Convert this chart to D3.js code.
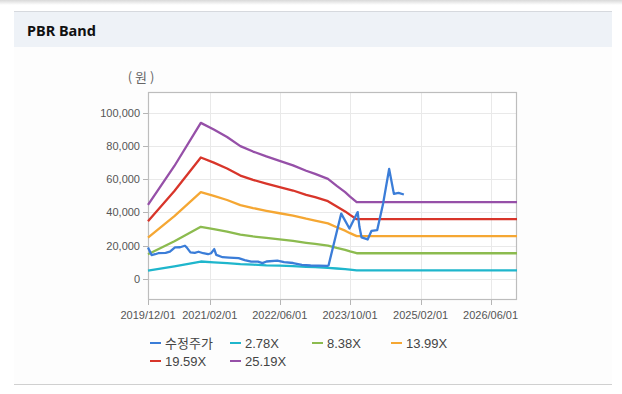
<!DOCTYPE html>
<html>
<head>
<meta charset="utf-8">
<script src="https://cdn.jsdelivr.net/npm/d3@7/dist/d3.min.js"></script>
<style>
  html, body { margin: 0; padding: 0; background: #ffffff; }
  svg { display: block; font-family: "Liberation Sans", Arial, sans-serif; }
  .gridLine { stroke: #e9e9e9; stroke-width: 1; }
  .axisTick { stroke: #b5b5b5; stroke-width: 1; }
  .tickLabel { fill: #555; font-size: 11px; }
  .legendText { fill: #444; font-size: 13px; }
</style>
</head>
<body>
<div id="chartContainer"></div>
<script>
const WIDTH = 622;
const HEIGHT = 394;
const PLOT = { left: 148, right: 517, top: 92, bottom: 300 };

const parseDate = d3.timeParse("%Y-%m-%d");

// 수정주가 (adjusted price)
const priceDates = [
  "2019-12-01", "2019-12-26", "2020-01-20", "2020-02-10", "2020-04-01", "2020-05-01",
  "2020-06-05", "2020-07-10", "2020-08-13", "2020-08-25", "2020-09-20", "2020-10-20",
  "2020-11-15", "2020-12-18", "2021-01-20", "2021-02-10", "2021-03-04", "2021-03-18",
  "2021-05-01", "2021-06-15", "2021-08-20", "2021-10-01", "2021-11-15", "2022-01-01",
  "2022-02-01", "2022-03-01", "2022-05-15", "2022-07-01", "2022-09-01", "2022-11-01",
  "2023-01-01", "2023-04-27", "2023-05-05", "2023-08-01", "2023-09-27", "2023-11-23",
  "2023-12-05", "2023-12-20", "2024-01-31", "2024-02-27", "2024-04-06", "2024-05-17",
  "2024-06-28", "2024-07-31", "2024-09-01", "2024-10-08"
];
const priceValues = [
  18900, 14300, 14800, 15400, 15600, 16300,
  18900, 19000, 19900, 18900, 15900, 15600,
  16300, 15400, 14800, 15400, 17900, 14400,
  13000, 12800, 12400, 11200, 10300, 10300,
  9400, 10400, 10900, 10000, 9500, 8400,
  8000, 7800, 8000, 39300, 30300, 40200,
  31300, 24900, 23700, 28900, 29300, 45300,
  66200, 51200, 51800, 50800
];

// PBR bands
const bandDates = [
  "2019-12-01", "2020-06-01", "2020-12-01", "2021-03-01", "2021-06-01", "2021-09-01",
  "2021-11-28", "2022-02-28", "2022-05-31", "2022-09-01", "2022-12-01", "2023-02-01",
  "2023-05-01", "2023-07-01", "2023-08-28", "2023-10-01", "2023-11-16", "2026-12-01"
];
const band278 = [4900, 7500, 10400, 9900, 9400, 8800, 8500, 8100, 7900, 7600, 7200, 7000, 6600, 6200, 5800, 5500, 5100, 5100];
const band838 = [14800, 22600, 31300, 29900, 28400, 26600, 25500, 24600, 23700, 22800, 21700, 21000, 20000, 18600, 17400, 16500, 15400, 15400];
const band1399 = [24800, 37800, 52200, 50000, 47500, 44400, 42600, 41000, 39500, 38000, 36200, 35100, 33400, 31100, 29000, 27500, 25700, 25700];
const band1959 = [34700, 52900, 73100, 70000, 66500, 62200, 59600, 57400, 55300, 53200, 50600, 49200, 46800, 43600, 40600, 38500, 35900, 35900];
const band2519 = [44600, 68000, 94000, 90000, 85500, 80000, 76700, 73800, 71100, 68400, 65100, 63200, 60200, 56000, 52200, 49500, 46200, 46200];

const seriesNames = ["수정주가", "2.78X", "8.38X", "13.99X", "19.59X", "25.19X"];
const seriesColors = ["#3b7dd8", "#1fb6cc", "#8cbb4f", "#f5a733", "#d8352a", "#9650a8"];

const xTickDates = ["2019-12-01", "2021-02-01", "2022-06-01", "2023-10-01", "2025-02-01", "2026-06-01"];
const yTickValues = [0, 20000, 40000, 60000, 80000, 100000];

const xScale = d3.scaleTime()
  .domain([parseDate("2019-12-01"), parseDate("2026-12-01")])
  .range([PLOT.left, PLOT.right]);
const yScale = d3.scaleLinear()
  .domain([-12800, 112600])
  .range([PLOT.bottom, PLOT.top]);

const svg = d3.select("#chartContainer").append("svg")
  .attr("width", WIDTH)
  .attr("height", HEIGHT);

// page frame and header
const defs = svg.append("defs");
const shadow = defs.append("linearGradient").attr("id", "topShadow")
  .attr("x1", 0).attr("y1", 0).attr("x2", 0).attr("y2", 1);
shadow.append("stop").attr("offset", "0%").attr("stop-color", "#d9d9d9");
shadow.append("stop").attr("offset", "100%").attr("stop-color", "#ffffff");
svg.append("rect").attr("x", 0).attr("y", 0).attr("width", WIDTH).attr("height", 5)
  .attr("fill", "url(#topShadow)");

svg.append("rect").attr("x", 14).attr("y", 47).attr("width", 598).attr("height", 337)
  .attr("fill", "#fdfdfd");
svg.append("rect").attr("x", 14).attr("y", 11).attr("width", 598).attr("height", 36)
  .attr("fill", "#eef2f7");
svg.append("line").attr("x1", 14).attr("x2", 612).attr("y1", 11.5).attr("y2", 11.5)
  .attr("stroke", "#d6d9de");
svg.append("line").attr("x1", 14).attr("x2", 612).attr("y1", 384.5).attr("y2", 384.5)
  .attr("stroke", "#d0d0d0");
svg.append("text")
  .attr("x", 27).attr("y", 36)
  .attr("font-family", "'Noto Sans', 'DejaVu Sans', sans-serif")
  .attr("font-weight", "bold")
  .attr("font-size", "14.5px")
  .attr("fill", "#111")
  .text("PBR Band");

// plot background + grid
svg.append("rect")
  .attr("x", PLOT.left).attr("y", PLOT.top)
  .attr("width", PLOT.right - PLOT.left).attr("height", PLOT.bottom - PLOT.top)
  .attr("fill", "#ffffff");

svg.selectAll("line.hGrid").data(yTickValues).join("line")
  .attr("class", "gridLine hGrid")
  .attr("x1", PLOT.left).attr("x2", PLOT.right)
  .attr("y1", d => Math.round(yScale(d)) + 0.5)
  .attr("y2", d => Math.round(yScale(d)) + 0.5);

svg.selectAll("line.vGrid").data(xTickDates.slice(1)).join("line")
  .attr("class", "gridLine vGrid")
  .attr("y1", PLOT.top).attr("y2", PLOT.bottom)
  .attr("x1", d => Math.round(xScale(parseDate(d))) + 0.5)
  .attr("x2", d => Math.round(xScale(parseDate(d))) + 0.5);

// y axis ticks and labels
svg.selectAll("line.yTick").data(yTickValues).join("line")
  .attr("class", "axisTick yTick")
  .attr("x1", PLOT.left - 5).attr("x2", PLOT.left)
  .attr("y1", d => Math.round(yScale(d)) + 0.5)
  .attr("y2", d => Math.round(yScale(d)) + 0.5);
svg.selectAll("text.yLabel").data(yTickValues).join("text")
  .attr("class", "tickLabel yLabel")
  .attr("x", PLOT.left - 8)
  .attr("y", d => yScale(d) + 4)
  .attr("text-anchor", "end")
  .text(d => d3.format(",")(d));

svg.append("text")
  .attr("x", 141).attr("y", 82)
  .attr("text-anchor", "middle")
  .attr("font-family", "'Noto Sans CJK KR', sans-serif")
  .attr("font-size", "13px")
  .attr("fill", "#666")
  .text("( 원 )");

// x axis ticks and labels
svg.selectAll("line.xTick").data(xTickDates).join("line")
  .attr("class", "axisTick xTick")
  .attr("y1", PLOT.bottom).attr("y2", PLOT.bottom + 5)
  .attr("x1", d => Math.round(xScale(parseDate(d))) + 0.5)
  .attr("x2", d => Math.round(xScale(parseDate(d))) + 0.5);
svg.selectAll("text.xLabel").data(xTickDates).join("text")
  .attr("class", "tickLabel xLabel")
  .attr("x", d => xScale(parseDate(d)))
  .attr("y", 319)
  .attr("text-anchor", "middle")
  .text(d => d.replace(/-/g, "/"));

// plot border
svg.append("rect")
  .attr("x", PLOT.left + 0.5).attr("y", PLOT.top + 0.5)
  .attr("width", PLOT.right - PLOT.left - 1).attr("height", PLOT.bottom - PLOT.top - 1)
  .attr("fill", "none")
  .attr("stroke", "#bdbdbd")
  .attr("stroke-width", 1.2);

// lines
const lineGen = d3.line()
  .x(d => xScale(d.date))
  .y(d => yScale(d.value));

const toPoints = (dates, values) => dates.map((d, i) => ({ date: parseDate(d), value: values[i] }));

const seriesData = [
  toPoints(priceDates, priceValues),
  toPoints(bandDates, band278),
  toPoints(bandDates, band838),
  toPoints(bandDates, band1399),
  toPoints(bandDates, band1959),
  toPoints(bandDates, band2519)
];

// bands first, price line on top
[5, 4, 3, 2, 1, 0].forEach((idx) => {
  svg.append("path")
    .datum(seriesData[idx])
    .attr("d", lineGen)
    .attr("fill", "none")
    .attr("stroke", seriesColors[idx])
    .attr("stroke-width", 2.3)
    .attr("stroke-linejoin", "round");
});

// legend
const legendCols = [149, 229, 311, 390];
const legendRows = [343, 361];
seriesNames.forEach((name, i) => {
  const col = legendCols[i % 4];
  const row = legendRows[Math.floor(i / 4)];
  const g = svg.append("g");
  g.append("line")
    .attr("x1", col + 1).attr("x2", col + 12)
    .attr("y1", row).attr("y2", row)
    .attr("stroke", seriesColors[i])
    .attr("stroke-width", 2);
  g.append("text")
    .attr("class", "legendText")
    .attr("x", col + 16)
    .attr("y", row + 5)
    .attr("font-family", i === 0 ? "'Noto Sans CJK KR', sans-serif" : null)
    .attr("font-size", i === 0 ? "14px" : null)
    .text(name);
});
</script>
</body>
</html>
